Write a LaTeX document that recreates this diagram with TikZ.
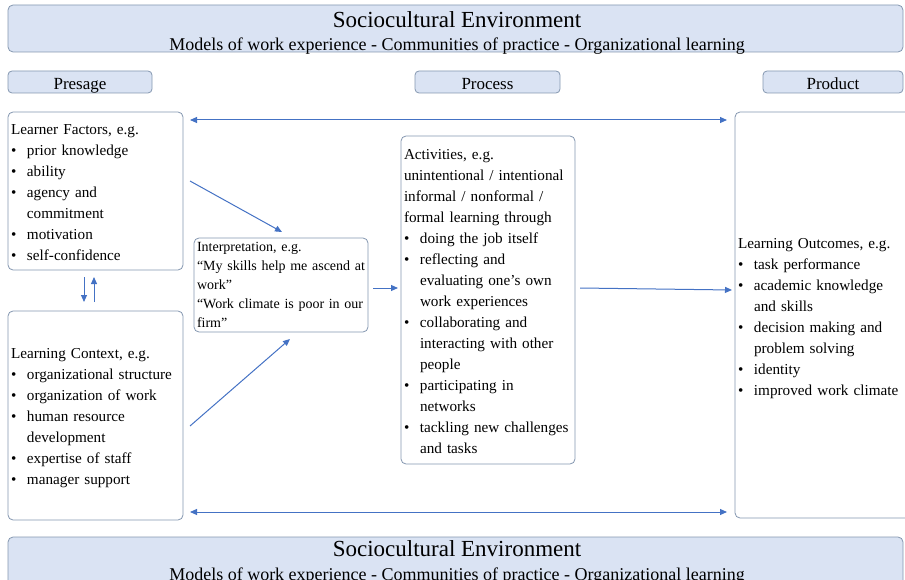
\documentclass[tikz,border=0pt]{standalone}
\usepackage{fontspec}
\setmainfont{Liberation Serif}
\usetikzlibrary{arrows.meta}

\definecolor{envfill}{HTML}{DAE3F3}
\definecolor{boxline}{HTML}{8497B0}
\definecolor{flowblue}{HTML}{4472C4}

\newcommand{\bul}{\makebox[16pt][l]{\textbullet}}
\newcommand{\bulgap}{\hspace*{16pt}}

\begin{document}
\begin{tikzpicture}
  [x=1pt,y=-1pt,
   envbox/.style={draw=boxline,fill=envfill,rounded corners=5pt,line width=0.8pt,inner sep=0pt},
   envtitle/.style={inner sep=0pt,anchor=base,font=\fontsize{23}{25}\selectfont},
   envsub/.style={inner sep=0pt,anchor=base,font=\fontsize{18}{20}\selectfont},
   phase/.style={envbox,rounded corners=4pt,minimum height=22pt,text height=16pt,text depth=0pt,
     font=\fontsize{17}{20}\selectfont},
   factor/.style={draw=boxline,fill=white,rounded corners=5pt,line width=0.8pt,
     inner xsep=3pt,inner ysep=0pt,align=left,font=\fontsize{15.2}{21}\selectfont},
   lift/.style={execute at begin node={\rule{0pt}{#1}}},
   quotes/.style={font=\fontsize{14}{19}\selectfont},
   flow/.style={draw=flowblue,line width=1pt,-{Triangle[length=7pt,width=6pt]}},
   both/.style={flow,{Triangle[length=7pt,width=6pt]}-{Triangle[length=7pt,width=6pt]}}]
  \useasboundingbox (0,0) rectangle (905,580);
  \clip (0,0) rectangle (905,580);

  % environment bands
  \node[envbox,minimum width=895pt,minimum height=47pt] (envTop) at (455.5,28.5) {};
  \node[envtitle] (envTopTitle) at (457,28) {Sociocultural Environment};
  \node[envsub] (envTopSub) at (457,51) {Models of work experience - Communities of practice - Organizational learning};
  \node[envbox,minimum width=895pt,minimum height=53pt] (envBot) at (455.5,563.5) {};
  \node[envtitle] (envBotTitle) at (457,556) {Sociocultural Environment};
  \node[envsub] (envBotSub) at (457,580) {Models of work experience - Communities of practice - Organizational learning};

  % phases
  \node[phase,minimum width=144pt] (presage) at (80,82) {Presage};
  \node[phase,minimum width=145pt] (process) at (487.5,82) {Process};
  \node[phase,minimum width=140pt] (product) at (833,82) {Product};

  % presage boxes
  \node[factor,lift=12.4pt,text width=169pt,minimum height=158pt] (learner) at (95.5,191) {%
    Learner Factors, e.g.\\
    \bul prior knowledge\\
    \bul ability\\
    \bul agency and\\
    \bulgap commitment\\
    \bul motivation\\
    \bul self-confidence};
  \node[factor,lift=14.4pt,text width=169pt,minimum height=209pt] (context) at (95.5,415.5) {%
    Learning Context, e.g.\\
    \bul organizational structure\\
    \bul organization of work\\
    \bul human resource\\
    \bulgap development\\
    \bul expertise of staff\\
    \bul manager support};

  % process boxes
  \node[factor,quotes,text width=168pt,minimum height=94pt] (interp) at (281,285) {%
    Interpretation, e.g.\\
    “My skills help me ascend at\\
    work”\\
    “Work climate is poor in our\\
    firm”};
  \node[factor,lift=13.4pt,text width=168pt,minimum height=328pt] (activities) at (488,300) {%
    Activities, e.g.\\
    unintentional / intentional\\
    informal / nonformal /\\
    formal learning through\\
    \bul doing the job itself\\
    \bul reflecting and\\
    \bulgap evaluating one’s own\\
    \bulgap work experiences\\
    \bul collaborating and\\
    \bulgap interacting with other\\
    \bulgap people\\
    \bul participating in\\
    \bulgap networks\\
    \bul tackling new challenges\\
    \bulgap and tasks};

  % product box
  \node[factor,lift=16.4pt,text width=174pt,minimum height=406pt] (outcomes) at (825,315) {%
    Learning Outcomes, e.g.\\
    \bul task performance\\
    \bul academic knowledge\\
    \bulgap and skills\\
    \bul decision making and\\
    \bulgap problem solving\\
    \bul identity\\
    \bul improved work climate};

  % arrow ends
  \coordinate (topL) at (190,120);
  \coordinate (topR) at (727,120);
  \coordinate (botL) at (190,512);
  \coordinate (botR) at (727,512);
  \coordinate (downA) at (84,277);
  \coordinate (downB) at (84,302);
  \coordinate (upA) at (94,302);
  \coordinate (upB) at (94,277);
  \coordinate (lfOut) at (190,181);
  \coordinate (lfIn) at (282,232);
  \coordinate (lcOut) at (190,426);
  \coordinate (lcIn) at (290,339);
  \coordinate (intOut) at (373,288);
  \coordinate (actIn) at (398,288);
  \coordinate (actOut) at (580,288);
  \coordinate (outIn) at (732,290);

  \foreach \from/\to in {topL/topR,botL/botR}
    \draw[both] (\from) -- (\to);
  \foreach \from/\to in {downA/downB,upA/upB,lfOut/lfIn,lcOut/lcIn,intOut/actIn,actOut/outIn}
    \draw[flow] (\from) -- (\to);

\end{tikzpicture}
\end{document}
